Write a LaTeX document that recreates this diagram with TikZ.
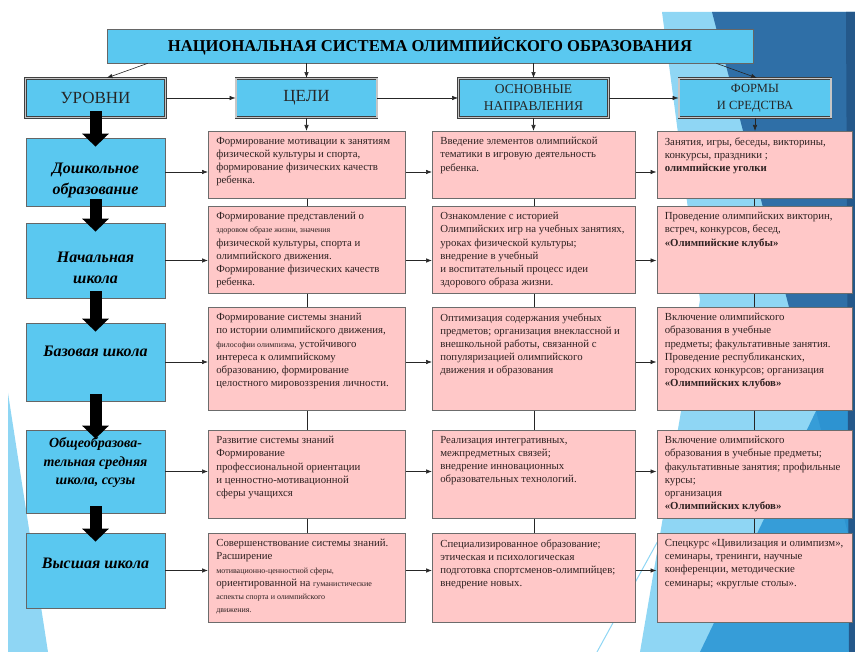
\documentclass[tikz,border=0pt]{standalone}
\usepackage{fontspec}
\setmainfont{Liberation Serif}
\usetikzlibrary{arrows.meta}

\definecolor{levelblue}{HTML}{5AC8F0}
\definecolor{cellpink}{HTML}{FFC8C8}
\definecolor{celltext}{HTML}{2E2222}
\definecolor{darkbg}{HTML}{2F6FA7}
\definecolor{midbg}{HTML}{2D97D6}
\definecolor{lightbg}{HTML}{8FD6F4}
\definecolor{edgebg}{HTML}{24588A}

% text of a pink cell: fixed height, top aligned
\newcommand{\celltext}[3]{\parbox[c][#1][t]{#2}{\raggedright #3}}
\newcommand{\smtxt}[1]{{\fontsize{8}{13.2}\selectfont #1}}

\begin{document}
\begin{tikzpicture}[x=1pt, y=-1pt, >=latex,
  level/.style={draw=gray!80!black, line width=0.7pt, fill=levelblue, minimum width=139pt},
  leveltext/.style={align=center, text=black, font=\bfseries\itshape\fontsize{16}{21}\selectfont},
  head/.style={draw=black!75, line width=0.9pt, double=gray!45, double distance=1.1pt,
    fill=levelblue, minimum height=39pt, align=center, text=black!85},
  cell/.style={draw=gray!85!black, line width=0.6pt, fill=cellpink, anchor=north west,
    inner xsep=8pt, inner ysep=6pt, text=celltext, font=\fontsize{10.8}{13.2}\selectfont},
  link/.style={line width=0.6pt, black!85},
  linkarrow/.style={link, -{Latex[length=6pt, width=4.5pt]}},
  bigarrow/.style={line width=12pt, black, -{Triangle[width=26pt, length=13pt]}},
]
\useasboundingbox (0,0) rectangle (855,652);

% background
\fill[lightbg] (8,393) -- (48,652) -- (8,652) -- cycle;
\fill[lightbg] (662,12) -- (855,12) -- (855,652) -- (640,652) -- (700,300) -- cycle;
\fill[darkbg] (712,12) -- (855,12) -- (855,560) -- cycle;
\fill[midbg, opacity=0.9] (855,330) -- (855,652) -- (700,652) -- cycle;
\fill[edgebg] (846,12) -- (855,12) -- (855,652) -- (849,652) -- cycle;
\draw[lightbg, line width=1pt] (597,652) -- (665,528);

% title and headers
\node[draw=gray!80!black, line width=0.7pt, fill=levelblue, minimum width=646pt, minimum height=34pt,
  font=\bfseries\fontsize{16.6}{20}\selectfont] (sys) at (430,46)
  {НАЦИОНАЛЬНАЯ СИСТЕМА ОЛИМПИЙСКОГО ОБРАЗОВАНИЯ};

\node[head, minimum width=140pt, font=\fontsize{17}{20}\selectfont] (levels) at (95.5,98) {УРОВНИ};
\node[head, minimum width=141pt, font=\fontsize{17}{20}\selectfont] (goals) at (306.5,98) {ЦЕЛИ};
\node[head, minimum width=150pt, font=\fontsize{13.5}{17}\selectfont] (dirs) at (533.5,98) {ОСНОВНЫЕ\\НАПРАВЛЕНИЯ};
\node[head, minimum width=152pt, font=\fontsize{12.5}{17}\selectfont] (forms) at (755,98) {ФОРМЫ\\И СРЕДСТВА};

\draw[linkarrow] ([xshift=41pt]sys.south west) -- ([xshift=11pt]levels.north);
\draw[linkarrow] (goals.north |- sys.south) -- (goals.north);
\draw[linkarrow] (dirs.north |- sys.south) -- (dirs.north);
\draw[linkarrow] ([xshift=-37pt]sys.south east) -- ([xshift=2pt]forms.north);
\draw[linkarrow] (levels) -- (goals);
\draw[linkarrow] (goals) -- (dirs);
\draw[linkarrow] (dirs) -- (forms);

% levels
\node[level, minimum height=68pt] (lev1) at (95.5,172) {};
\node[level, minimum height=75pt] (lev2) at (95.5,260.5) {};
\node[level, minimum height=78pt] (lev3) at (95.5,362) {};
\node[level, minimum height=83pt] (lev4) at (95.5,471.5) {};
\node[level, minimum height=75pt] (lev5) at (95.5,570.5) {};

\node[leveltext] (levtext1) at (95.5,180) {Дошкольное\\образование};
\node[leveltext] (levtext2) at (95.5,268) {Начальная\\школа};
\node[leveltext] (levtext3) at (95.5,351) {Базовая школа};
\node[leveltext, font=\bfseries\itshape\fontsize{14}{18.5}\selectfont] (levtext4) at (95.5,463)
  {Общеобразова-\\тельная средняя\\школа, ссузы};
\node[leveltext] (levtext5) at (95.5,563) {Высшая школа};

\draw[bigarrow] ([yshift=7pt]levels.south) -- ([yshift=-9pt]lev1.north);
\foreach \i/\j in {1/2,2/3,3/4,4/5}
  \draw[bigarrow] ([yshift=7pt]lev\i.south) -- ([yshift=-9pt]lev\j.north);

% goals
\node[cell] (goal1) at (208,131) {\celltext{55pt}{181pt}{Формирование мотивации к занятиям\\
  физической культуры и спорта,\\ формирование физических качеств\\ ребенка.}};
\node[cell] (goal2) at (208,206) {\celltext{75pt}{181pt}{Формирование представлений о\\
  \smtxt{здоровом образе жизни, значения}\\ физической культуры, спорта и\\
  олимпийского движения.\\ Формирование физических качеств\\ ребенка.}};
\node[cell] (goal3) at (208,307) {\celltext{91pt}{181pt}{Формирование системы знаний\\
  по истории олимпийского движения,\\ \smtxt{философии олимпизма,} устойчивого\\
  интереса к олимпийскому\\ образованию, формирование\\ целостного мировоззрения личности.}};
\node[cell] (goal4) at (208,430) {\celltext{76pt}{181pt}{Развитие системы знаний\\
  Формирование\\ профессиональной ориентации\\ и ценностно-мотивационной\\ сферы учащихся}};
\node[cell] (goal5) at (208,533) {\celltext{77pt}{181pt}{Совершенствование системы знаний.\\
  Расширение\\ \smtxt{мотивационно-ценностной сферы,}\\ ориентированной на \smtxt{гуманистические}\\
  \smtxt{аспекты спорта и олимпийского}\\ \smtxt{движения.}}};

% directions
\node[cell] (dir1) at (432,131) {\celltext{55pt}{187pt}{Введение элементов олимпийской\\
  тематики в игровую деятельность\\ ребенка.}};
\node[cell] (dir2) at (432,206) {\celltext{75pt}{187pt}{Ознакомление с историей\\
  Олимпийских игр на учебных занятиях,\\ уроках физической культуры;\\ внедрение в учебный\\
  и воспитательный процесс идеи\\ здорового образа жизни.}};
\node[cell] (dir3) at (432,307) {\celltext{91pt}{187pt}{Оптимизация содержания учебных\\
  предметов; организация внеклассной и\\ внешкольной работы, связанной с\\
  популяризацией олимпийского\\ движения и образования}};
\node[cell] (dir4) at (432,430) {\celltext{76pt}{187pt}{Реализация интегративных,\\
  межпредметных связей;\\ внедрение инновационных\\ образовательных технологий.}};
\node[cell] (dir5) at (432,533) {\celltext{77pt}{187pt}{Специализированное образование;\\
  этическая и психологическая\\ подготовка спортсменов-олимпийцев;\\ внедрение новых.}};

% forms
\node[cell] (form1) at (656.5,131) {\celltext{55pt}{179pt}{Занятия, игры, беседы, викторины,\\
  конкурсы, праздники ;\\ \textbf{олимпийские уголки}}};
\node[cell] (form2) at (656.5,206) {\celltext{75pt}{179pt}{Проведение олимпийских викторин,\\
  встреч, конкурсов, бесед,\\ \textbf{«Олимпийские клубы»}}};
\node[cell] (form3) at (656.5,307) {\celltext{91pt}{179pt}{Включение олимпийского\\
  образования в учебные\\ предметы; факультативные занятия.\\ Проведение республиканских,\\
  городских конкурсов; организация\\ \textbf{«Олимпийских клубов»}}};
\node[cell] (form4) at (656.5,430) {\celltext{76pt}{179pt}{Включение олимпийского\\
  образования в учебные предметы;\\ факультативные занятия; профильные\\ курсы;\\
  организация\\ \textbf{«Олимпийских клубов»}}};
\node[cell] (form5) at (656.5,533) {\celltext{77pt}{179pt}{Спецкурс «Цивилизация и олимпизм»,\\
  семинары, тренинги, научные\\ конференции, методические\\ семинары; «круглые столы».}};

% connectors
\draw[linkarrow] (goals.south) -- (goals.south |- goal1.north);
\draw[linkarrow] (dirs.south) -- (dirs.south |- dir1.north);
\draw[linkarrow] (forms.south) -- (forms.south |- form1.north);
\foreach \i/\j in {1/2,2/3,3/4,4/5} {
  \draw[link] (goal\i.south) -- (goal\j.north);
  \draw[link] (dir\i.south) -- (dir\j.north);
  \draw[link] (form\i.south) -- (form\j.north);
}
\foreach \i in {1,...,5} {
  \draw[linkarrow] (lev\i.east) -- (lev\i.east -| goal\i.west);
  \draw[linkarrow] (lev\i.east -| goal\i.east) -- (lev\i.east -| dir\i.west);
  \draw[linkarrow] (lev\i.east -| dir\i.east) -- (lev\i.east -| form\i.west);
}
\end{tikzpicture}
\end{document}
